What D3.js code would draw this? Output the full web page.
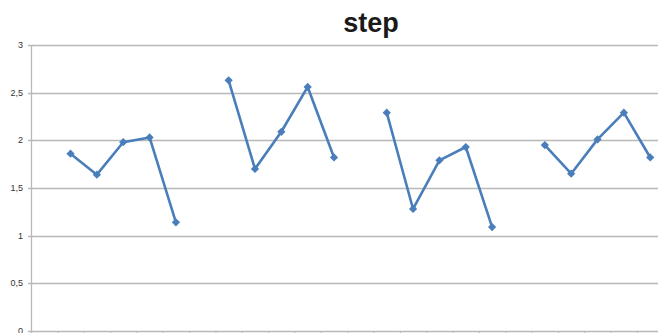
<!DOCTYPE html>
<html><head><meta charset="utf-8">
<script src="https://cdn.jsdelivr.net/npm/d3@7"></script>
<style>body{margin:0;background:#fff;}svg{display:block;}</style>
</head><body>
<svg id="c" width="658" height="333"></svg>
<script>
const title = "step";
const categories = d3.range(24).map(i => "c" + i);
// null = gap between groups
const values = [null, 1.86, 1.64, 1.98, 2.03, 1.14,
                null, 2.63, 1.70, 2.09, 2.56, 1.82,
                null, 2.29, 1.28, 1.79, 1.93, 1.09,
                null, 1.95, 1.65, 2.01, 2.29, 1.82];
const yTicks = [0, 0.5, 1, 1.5, 2, 2.5, 3];
const yTickLabels = ["0", "0,5", "1", "1,5", "2", "2,5", "3"];

(function () {
const svg = d3.select("#c");
const mLeft = 31, mTop = 45, mBottom = 331, bw = 26.35;
const x = d3.scaleBand().domain(categories).range([mLeft, mLeft + bw * categories.length]);
const y = d3.scaleLinear().domain([0, 3]).range([mBottom, mTop]);

// gridlines
svg.append("g").selectAll("line").data(yTicks).join("line")
  .attr("x1", mLeft - 3).attr("x2", 658)
  .attr("y1", d => Math.round(y(d)) + 0.5).attr("y2", d => Math.round(y(d)) + 0.5)
  .attr("stroke", "#b8b8b8").attr("stroke-width", 1.3);

// y axis line
svg.append("line").attr("x1", mLeft + 0.5).attr("x2", mLeft + 0.5)
  .attr("y1", mTop).attr("y2", mBottom + 3).attr("stroke", "#b8b8b8").attr("stroke-width", 1.3);

// x ticks
svg.append("g").selectAll("line").data(categories).join("line")
  .attr("x1", d => x(d) + 0.5).attr("x2", d => x(d) + 0.5)
  .attr("y1", mBottom).attr("y2", mBottom + 3)
  .attr("stroke", "#b8b8b8");

// y labels
svg.append("g").selectAll("text").data(yTicks).join("text")
  .attr("x", 23).attr("y", d => y(d) + 3)
  .attr("text-anchor", "end")
  .attr("font-family", "Liberation Sans, Arial, sans-serif")
  .attr("font-size", 9).attr("fill", "#333")
  .text((d, i) => yTickLabels[i]);

// title
svg.append("text").attr("x", 371).attr("y", 32)
  .attr("text-anchor", "middle")
  .attr("font-family", "Liberation Sans, Arial, sans-serif")
  .attr("font-weight", "bold").attr("font-size", 27).attr("fill", "#1a1a1a")
  .text(title);

const data = categories.map((c, i) => ({c, v: values[i]}));
const line = d3.line().defined(d => d.v != null)
  .x(d => x(d.c) + x.bandwidth() / 2).y(d => y(d.v));

svg.append("path").datum(data).attr("d", line)
  .attr("fill", "none").attr("stroke", "#4a7ebb").attr("stroke-width", 2.6)
  .attr("stroke-linejoin", "round");

svg.append("g").selectAll("path").data(data.filter(d => d.v != null)).join("path")
  .attr("d", d3.symbol(d3.symbolSquare, 34))
  .attr("transform", d => `translate(${x(d.c) + x.bandwidth() / 2},${y(d.v)}) rotate(45)`)
  .attr("fill", "#4a7ebb");
})();
</script>
</body></html>
